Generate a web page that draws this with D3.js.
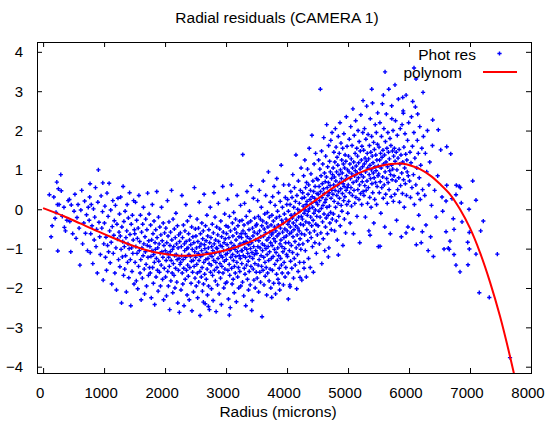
<!DOCTYPE html>
<html>
<head>
<meta charset="utf-8">
<script src="https://cdn.jsdelivr.net/npm/d3@7"></script>
<style>
  body { margin: 0; background: #fff; }
  text { font-family: "Liberation Sans", Arial, sans-serif; fill: #000; }
</style>
</head>
<body>
<svg id="chart" width="545" height="425"></svg>
<script>
// radius (microns) vs residual
var photRes = [
[103,0.37],[131,-0.7],[148,-0.42],[176,0.31],[197,-0.23],[212,-0.08],[225,0.69],[236,0.12],[241,-1.06],[251,0.52],[262,0.12],[290,0.88],[298,0.47],[315,-0.18],[342,0.05],[349,-0.46],[367,-0.55],[390,-0.28],[412,0.22],[431,0.25],[438,-0.31],[454,-1.08],[462,0.11],[485,-0.62],
[508,-0.05],[522,0.38],[541,-0.74],[556,-0.21],[573,0.12],[590,-0.48],[604,-1.42],[619,-0.02],[633,0.48],[648,-0.88],[667,-0.35],[681,0.21],[695,-0.61],[712,-0.14],[728,-1.05],[741,0.05],
[756,-0.28],[764,0.31],[770,0.65],[773,-1.1],[781,-0.62],[790,0.12],[802,-0.42],[815,-1.38],[826,0.01],[838,-0.78],[847,-0.2],[859,0.55],[868,-0.95],[877,-0.51],[889,-1.62],[898,0.18],[906,1.0],[916,-0.33],[928,-0.7],[939,-1.15],[951,0.34],[963,-0.48],[974,-0.06],[979,0.67],[985,-1.8],[995,-0.88],
[1006,-0.35],[1014,0.08],[1023,-1.22],[1031,-0.71],[1040,-1.55],[1048,0.41],[1057,-0.92],[1066,-0.18],[1074,-1.08],[1083,0.66],[1091,-0.55],[1100,-1.36],[1109,-0.02],[1117,-0.84],[1126,-1.9],[1134,-0.44],[1143,0.22],[1151,-1.12],[1160,-0.66],[1168,-0.29],[1177,-1.62],[1186,0.1],[1194,-0.98],[1203,-2.05],[1211,-0.38],[1220,-0.76],[1228,0.28],[1237,-1.28],[1245,-0.58],
[1253,-0.12],[1259,-1.46],[1266,-0.68],[1272,0.31],[1279,-1.02],[1286,-2.38],[1292,-0.45],[1299,-1.21],[1305,-0.82],[1312,0.58],[1319,-1.68],[1325,-0.31],[1332,-0.95],[1339,-1.52],[1345,-0.05],[1352,-1.18],[1358,-0.72],[1365,-2.1],[1372,-0.55],[1378,0.12],[1385,-1.35],[1392,-0.88],[1398,-0.22],[1405,-1.74],[1411,-1.0],[1418,0.42],[1425,-0.64],[1431,-1.28],[1438,-2.45],[1445,-0.38],[1451,-0.98],[1458,-1.58],[1464,-0.15],[1471,-1.12],[1478,-0.78],[1484,0.22],[1491,-1.9],[1497,-0.52],
[1503,-0.62],[1509,-1.35],[1515,0.18],[1521,-0.95],[1528,-1.82],[1534,-0.28],[1540,-1.12],[1546,-0.74],[1552,-2.02],[1559,-0.48],[1565,-1.45],[1571,0.35],[1577,-1.05],[1584,-0.82],[1590,-1.62],[1596,-0.15],[1602,-1.28],[1608,-2.3],[1615,-0.58],[1621,-0.98],[1627,-1.75],[1633,-0.38],[1640,-1.18],[1646,0.05],[1652,-0.88],[1658,-1.52],[1664,-2.15],[1671,-0.7],[1677,-1.08],[1683,-0.25],[1689,-1.4],[1696,-1.95],[1702,-0.52],[1708,-0.92],[1714,0.41],[1720,-1.22],[1727,-1.68],[1733,-0.8],[1739,-0.12],[1745,-1.48],
[1752,-0.95],[1757,-1.62],[1763,-0.4],[1768,-1.2],[1774,-2.25],[1780,-0.78],[1785,-1.05],[1791,0.12],[1796,-1.48],[1802,-0.62],[1808,-1.88],[1813,-1.15],[1819,-0.3],[1824,-1.35],[1830,-2.42],[1836,-0.85],[1841,-1.02],[1847,-0.52],[1852,-1.72],[1858,-1.25],[1864,0.45],[1869,-0.72],[1875,-1.55],[1880,-0.98],[1886,-2.08],[1892,-0.2],[1897,-1.32],[1903,-0.88],[1908,-1.6],[1914,-0.45],[1920,-1.12],[1925,-1.95],[1931,-0.65],[1936,-1.42],[1942,0.05],[1948,-1.08],[1953,-0.8],[1959,-1.78],[1964,-1.22],[1970,-0.35],[1976,-2.3],[1981,-0.92],[1987,-1.5],[1992,-0.6],
[2003,-1.05],[2008,-1.72],[2013,-0.48],[2018,-1.3],[2023,-2.2],[2028,-0.85],[2034,-1.12],[2039,0.22],[2044,-1.58],[2049,-0.68],[2054,-1.95],[2059,-1.22],[2064,-0.32],[2070,-1.45],[2075,-2.55],[2080,-0.92],[2085,-1.08],[2090,-0.58],[2095,-1.82],[2100,-1.3],[2106,0.48],[2111,-0.78],[2116,-1.62],[2121,-1.02],[2126,-2.12],[2131,-0.25],[2136,-1.38],[2142,-0.95],[2147,-1.68],[2152,-0.5],[2157,-1.18],[2162,-2.0],[2167,-0.72],[2172,-1.5],[2178,-0.1],[2183,-1.15],[2188,-0.88],[2193,-1.85],[2198,-1.28],[2203,-0.42],[2208,-2.38],[2214,-0.98],[2219,-1.55],[2224,-0.65],[2229,-1.25],[2234,-2.62],[2239,-0.82],[2245,-1.4],
[2251,-0.6],[2256,-1.35],[2261,-2.05],[2266,-0.95],[2271,-1.18],[2276,0.35],[2281,-1.62],[2286,-0.72],[2291,-1.9],[2296,-1.28],[2301,-0.4],[2306,-1.5],[2311,-2.45],[2316,-0.88],[2321,-1.05],[2326,-0.55],[2331,-1.78],[2336,-1.22],[2341,0.12],[2346,-0.82],[2351,-1.55],[2356,-1.0],[2361,-2.18],[2366,-0.3],[2371,-1.42],[2376,-0.98],[2381,-1.7],[2386,-0.62],[2391,-1.15],[2396,-2.3],[2401,-0.78],[2406,-1.48],[2411,-0.18],[2416,-1.2],[2421,-0.9],[2426,-1.88],[2431,-1.32],[2436,-0.45],[2441,-2.58],[2446,-1.02],[2451,-1.6],[2456,-0.7],[2461,-1.3],[2466,-2.1],[2471,-0.85],[2476,-1.45],[2481,0.55],[2486,-1.08],[2491,-1.75],[2496,-0.5],
[2502,-1.22],[2506,-0.68],[2511,-1.95],[2515,-0.98],[2520,-1.4],[2525,-0.25],[2529,-1.62],[2534,-2.25],[2538,-0.82],[2543,-1.12],[2548,-0.48],[2552,-1.85],[2557,-1.3],[2561,0.18],[2566,-0.95],[2571,-1.58],[2575,-2.7],[2580,-0.62],[2584,-1.2],[2589,-0.88],[2594,-1.72],[2598,-1.05],[2603,-0.35],[2607,-1.48],[2612,-2.08],[2617,-0.75],[2621,-1.15],[2626,-0.55],[2628,-2.36],[2630,-1.9],[2635,-1.35],[2640,0.38],[2644,-0.9],[2649,-1.65],[2653,-1.0],[2658,-2.4],[2663,-0.42],[2667,-1.28],[2672,-0.8],[2676,-1.78],[2681,-1.1],[2686,-0.15],[2690,-1.52],[2695,-2.18],[2699,-0.68],[2704,-1.25],[2709,-0.98],[2710,-2.47],[2713,-1.95],[2718,-0.52],[2722,-1.38],[2727,-2.55],[2732,-0.85],[2736,-1.15],[2741,0.05],[2745,-1.6],
[2752,-0.72],[2756,-1.42],[2761,-2.02],[2765,-0.95],[2770,-1.2],[2774,-0.38],[2779,-1.68],[2783,-1.05],[2788,-2.32],[2792,-0.6],[2797,-1.3],[2801,0.42],[2806,-0.88],[2810,-1.55],[2815,-1.12],[2819,-0.2],[2824,-1.82],[2828,-0.78],[2833,-1.35],[2837,-2.6],[2842,-0.98],[2846,-0.45],[2851,-1.48],[2855,-1.0],[2860,-1.92],[2864,-0.65],[2869,-1.25],[2873,0.15],[2878,-0.82],[2882,-1.6],[2887,-2.15],[2891,-1.1],[2896,-0.5],[2900,-1.38],[2905,-0.92],[2909,-1.75],[2914,-0.3],[2918,-1.18],[2923,-2.42],[2927,-0.7],[2932,-1.45],[2936,-0.95],[2941,-1.22],[2945,0.58],[2950,-1.62],[2954,-0.58],[2959,-1.05],[2963,-2.0],[2968,-0.85],[2972,-1.32],[2977,-0.12],[2981,-1.52],[2986,-0.75],[2990,-1.88],[2995,-1.15],[2999,-0.42],
[3004,-1.28],[3008,-0.62],[3013,-1.85],[3017,-0.9],[3021,-1.12],[3026,0.25],[3030,-1.55],[3034,-0.45],[3039,-2.28],[3043,-1.0],[3047,-0.72],[3052,-1.4],[3054,-2.69],[3056,-0.18],[3060,-1.68],[3065,-1.05],[3069,-2.5],[3073,-0.55],[3078,-1.22],[3082,-0.85],[3086,0.62],[3091,-1.5],[3095,-0.98],[3099,-1.9],[3104,-0.35],[3108,-1.15],[3112,-0.68],[3117,-1.78],[3121,-1.3],[3125,-0.08],[3130,-0.92],[3134,-2.12],[3138,-1.45],[3143,-0.5],[3147,-1.02],[3151,-1.62],[3156,-0.25],[3160,-1.2],[3164,-0.78],[3169,-2.35],[3173,-0.6],[3177,-1.35],[3182,0.35],[3186,-1.08],[3190,-1.72],[3195,-0.42],[3199,-0.95],[3203,-1.48],[3208,-2.0],[3212,-0.7],[3216,-1.18],[3221,-0.3],[3225,-1.58],[3229,-0.88],[3234,-1.25],[3238,0.1],[3242,-1.95],[3247,-0.62],[3250,-1.05],
[3254,-0.72],[3258,-1.38],[3262,-0.28],[3266,-1.05],[3270,-1.85],[3274,1.39],[3278,-0.55],[3282,-1.18],[3286,-0.85],[3290,-2.2],[3295,-0.4],[3299,-1.5],[3303,0.15],[3307,-0.98],[3311,-1.65],[3315,-0.62],[3319,-1.22],[3323,-2.45],[3327,-0.82],[3331,-0.18],[3335,-1.42],[3339,-1.02],[3343,0.45],[3347,-0.7],[3351,-1.78],[3356,-1.12],[3360,-0.35],[3364,-1.32],[3368,-2.05],[3372,-0.9],[3376,-0.52],[3380,-1.58],[3384,-0.05],[3388,-1.2],[3392,-0.75],[3396,-1.92],[3400,-1.0],[3404,-0.3],[3408,-1.45],[3412,0.6],[3417,-0.85],[3421,-2.57],[3425,-1.1],[3429,-2.32],[3433,-0.48],[3437,-1.25],[3441,-0.68],[3445,-1.52],[3449,0.28],[3453,-0.95],[3457,-1.8],[3461,-0.58],[3465,-1.15],[3469,-0.22],[3473,-1.38],[3478,-2.0],[3482,-0.78],[3486,-1.05],[3490,-0.42],[3494,-1.6],
[3502,-0.38],[3506,-1.12],[3510,-1.75],[3514,-0.62],[3518,0.22],[3522,-0.95],[3526,-1.42],[3530,-0.18],[3534,-2.1],[3538,-0.8],[3542,-1.28],[3546,0.48],[3550,-0.55],[3554,-1.6],[3558,-0.98],[3562,-0.25],[3566,-1.85],[3570,-0.7],[3574,-1.18],[3578,0.05],[3582,-1.45],[3586,-0.42],[3590,-2.73],[3594,-0.88],[3598,-1.05],[3602,-0.3],[3606,-1.55],[3610,0.72],[3614,-0.68],[3618,-1.22],[3622,-1.92],[3626,-0.5],[3630,-0.92],[3634,-0.12],[3638,-1.35],[3642,-1.7],[3646,-0.6],[3650,0.35],[3654,-1.0],[3658,-1.48],[3662,-0.35],[3666,-2.18],[3670,-0.78],[3674,-1.15],[3678,-0.08],[3682,-1.62],[3686,-0.45],[3690,-0.95],[3694,0.95],[3698,-1.3],[3702,-0.72],[3706,-1.82],[3710,-0.2],[3714,-1.08],[3718,-0.58],[3722,-1.52],[3726,0.18],[3730,-0.85],[3734,-2.0],[3738,-0.4],[3742,-1.25],[3746,-0.65],[3749,-2.24],
[3752,-0.15],[3756,-0.92],[3760,-1.55],[3764,0.32],[3768,-0.6],[3772,-1.2],[3776,-0.3],[3780,-1.88],[3784,-0.75],[3788,0.58],[3792,-1.02],[3796,-0.45],[3800,-1.4],[3804,0.1],[3808,-0.82],[3812,-2.15],[3816,-0.55],[3820,-1.1],[3824,-0.22],[3828,-1.65],[3832,0.78],[3836,-0.68],[3840,-1.3],[3844,-0.05],[3848,-0.98],[3852,-1.78],[3856,-0.4],[3860,0.42],[3864,-1.18],[3868,-0.62],[3869,-1.88],[3872,-1.5],[3876,-0.18],[3880,-2.05],[3884,-0.88],[3888,0.2],[3892,-0.48],[3896,-1.25],[3900,-0.78],[3904,1.12],[3908,-1.42],[3912,-0.28],[3916,-0.95],[3920,-1.62],[3924,0.05],[3928,-0.58],[3932,-1.08],[3936,-0.35],[3940,-1.92],[3944,0.62],[3948,-0.72],[3952,-1.35],[3956,-0.12],[3960,-1.0],[3964,-0.5],[3968,-1.72],[3972,0.3],[3976,-0.85],[3980,-1.48],[3984,-0.25],[3988,-0.68],[3992,-1.15],[3996,0.12],
[4002,-0.55],[4006,-1.2],[4010,0.25],[4014,-0.38],[4018,-1.62],[4021,-2.28],[4022,-0.05],[4026,-0.85],[4030,0.62],[4034,-0.3],[4038,-1.05],[4042,-0.62],[4046,-1.92],[4049,-1.97],[4050,0.12],[4054,-0.45],[4058,-1.32],[4062,0.45],[4066,-0.15],[4070,-0.92],[4074,-0.58],[4078,-1.5],[4082,0.3],[4086,-0.22],[4090,-1.1],[4094,0.88],[4098,-0.7],[4102,-0.35],[4106,-1.75],[4110,0.05],[4114,-0.52],[4118,-1.25],[4122,0.55],[4126,-0.12],[4130,-0.82],[4134,-1.42],[4138,0.2],[4142,-0.42],[4146,1.38],[4150,-0.98],[4154,-0.28],[4158,-2.02],[4162,0.35],[4166,-0.65],[4170,-1.15],[4174,0.0],[4178,-0.48],[4182,-1.58],[4186,0.72],[4190,-0.2],[4194,-0.9],[4198,-0.55],[4202,0.15],[4206,-1.35],[4210,-0.05],[4213,-1.73],[4214,-0.75],[4218,0.48],[4222,-0.38],[4226,-1.02],[4230,1.05],[4234,-0.18],[4238,-0.62],[4242,-1.8],[4246,0.28],
[4252,-0.25],[4256,0.42],[4260,-0.88],[4264,0.08],[4268,-0.4],[4272,0.85],[4276,-1.35],[4279,-1.5],[4280,-0.1],[4284,0.3],[4288,-0.65],[4292,1.25],[4296,-0.02],[4300,-1.05],[4304,0.55],[4308,-0.32],[4312,0.12],[4316,-1.72],[4320,0.68],[4324,-0.52],[4328,0.2],[4332,-0.15],[4336,1.02],[4340,-0.8],[4344,0.38],[4348,-0.05],[4352,-1.25],[4356,0.62],[4360,-0.35],[4364,1.55],[4368,0.02],[4372,-0.6],[4376,0.25],[4380,-1.48],[4384,0.48],[4388,-0.2],[4392,0.9],[4396,-0.72],[4400,0.15],[4404,-0.42],[4408,1.88],[4412,0.32],[4416,-0.95],[4420,0.05],[4424,0.72],[4428,-0.28],[4432,-1.6],[4436,0.45],[4440,-0.1],[4444,1.15],[4448,-0.55],[4452,0.28],[4456,-0.85],[4460,0.58],[4464,-0.02],[4468,1.42],[4472,-0.38],[4476,0.18],[4480,-1.12],[4484,0.78],[4488,-0.18],[4492,0.4],[4496,-0.65],
[4502,0.12],[4506,0.75],[4510,-0.42],[4514,0.38],[4518,1.25],[4522,-0.05],[4526,0.58],[4530,-0.88],[4534,0.22],[4538,1.02],[4542,-0.2],[4546,3.05],[4550,0.45],[4554,-0.6],[4558,0.85],[4562,0.02],[4566,1.48],[4570,-1.38],[4574,0.3],[4578,0.65],[4582,-0.32],[4586,1.15],[4590,0.1],[4594,-0.75],[4598,0.52],[4602,1.82],[4606,-0.12],[4610,0.4],[4614,0.92],[4618,-1.05],[4622,0.18],[4626,0.7],[4630,-0.45],[4634,1.35],[4638,0.25],[4642,-0.22],[4646,0.82],[4650,2.15],[4654,0.05],[4658,0.55],[4662,-0.62],[4666,1.08],[4670,0.35],[4674,-0.15],[4677,-1.21],[4678,0.68],[4682,1.62],[4686,-0.98],[4690,0.42],[4694,0.08],[4698,1.22],[4702,-0.35],[4706,0.6],[4710,0.95],[4714,-0.08],[4718,1.75],[4722,0.28],[4726,-0.52],[4730,0.78],[4734,0.48],[4738,1.95],[4742,-0.25],[4746,0.88],
[4752,0.38],[4756,1.05],[4760,-0.12],[4764,0.62],[4768,1.45],[4772,0.2],[4776,0.82],[4780,-0.55],[4784,1.2],[4788,0.48],[4792,2.05],[4796,0.05],[4800,0.72],[4804,1.58],[4808,-0.3],[4812,0.95],[4816,0.35],[4820,1.32],[4824,-0.78],[4828,0.6],[4832,1.12],[4836,0.15],[4840,1.85],[4841,-1.16],[4844,0.45],[4848,-0.18],[4852,0.88],[4856,1.42],[4860,0.28],[4864,0.68],[4868,2.2],[4872,-0.42],[4876,1.0],[4880,0.52],[4884,1.68],[4888,0.1],[4892,0.78],[4896,1.25],[4900,-0.05],[4904,0.92],[4908,0.4],[4912,1.55],[4916,-0.92],[4920,0.65],[4924,1.15],[4928,0.22],[4932,1.92],[4936,0.58],[4940,-0.25],[4944,1.05],[4948,0.32],[4952,1.38],[4956,0.75],[4960,-0.6],[4964,1.22],[4968,0.48],[4972,2.35],[4976,0.85],[4980,0.12],[4984,1.6],[4988,0.55],[4992,1.0],[4996,-0.1],
[5003,0.62],[5008,1.35],[5012,0.2],[5017,0.95],[5021,1.78],[5026,0.42],[5030,1.15],[5035,-0.35],[5039,0.78],[5044,2.1],[5048,0.55],[5053,1.28],[5057,0.08],[5062,0.9],[5066,1.62],[5071,0.35],[5075,1.05],[5080,2.55],[5084,0.68],[5089,-0.62],[5093,1.2],[5098,0.48],[5102,1.88],[5107,0.85],[5111,0.15],[5116,1.42],[5120,0.98],[5125,2.25],[5129,0.3],[5134,1.1],[5138,0.72],[5143,1.55],[5147,-0.18],[5152,0.92],[5156,1.35],[5161,0.5],[5165,2.0],[5170,0.8],[5174,1.18],[5179,0.25],[5183,1.72],[5188,0.62],[5192,-0.85],[5197,1.02],[5201,1.48],[5206,0.4],[5210,2.4],[5215,0.88],[5219,1.25],[5224,0.12],[5228,1.6],[5233,0.7],[5237,1.08],[5242,1.95],[5246,2.76],[5248,0.45],
[5252,0.82],[5257,1.5],[5261,0.35],[5266,1.15],[5270,2.05],[5275,0.6],[5279,1.3],[5284,-0.2],[5288,0.95],[5293,1.78],[5297,0.48],[5302,1.22],[5306,2.62],[5311,0.72],[5315,1.42],[5320,0.15],[5324,1.05],[5329,1.9],[5333,0.55],[5338,1.28],[5342,-0.55],[5347,0.88],[5351,1.62],[5356,0.3],[5360,1.12],[5361,-0.66],[5365,2.3],[5369,0.78],[5374,1.45],[5378,0.05],[5383,1.0],[5387,1.85],[5389,3.05],[5392,0.65],[5396,1.35],[5401,2.7],[5405,0.42],[5410,1.18],[5414,0.92],[5419,1.7],[5423,-0.35],[5428,0.8],[5432,1.52],[5437,0.25],[5441,1.08],[5446,2.15],[5450,0.68],[5455,1.38],[5459,0.98],[5464,1.95],[5468,0.12],[5473,1.25],[5477,0.58],[5482,1.65],[5486,2.45],[5491,0.85],[5495,1.1],[5497,-0.95],
[5503,0.9],[5508,1.58],[5513,0.42],[5518,1.25],[5523,2.2],[5525,-0.94],[5528,0.7],[5533,1.42],[5538,-0.1],[5543,1.05],[5548,1.85],[5553,0.55],[5558,1.32],[5563,2.68],[5568,0.82],[5573,1.5],[5578,0.28],[5579,2.9],[5583,1.15],[5588,2.05],[5593,0.62],[5598,1.38],[5603,-0.45],[5607,3.49],[5608,0.95],[5613,1.72],[5618,0.38],[5623,1.2],[5628,2.42],[5633,0.78],[5638,1.55],[5643,0.15],[5648,1.08],[5653,1.95],[5658,0.68],[5663,1.45],[5668,3.05],[5673,0.5],[5678,1.28],[5683,0.98],[5688,1.8],[5693,-0.62],[5698,0.88],[5703,1.62],[5708,0.32],[5713,1.12],[5716,2.63],[5718,2.3],[5723,0.75],[5728,1.48],[5733,1.02],[5738,2.0],[5743,0.2],[5748,1.35],
[5754,0.85],[5760,1.55],[5766,0.38],[5770,3.16],[5772,1.22],[5778,2.25],[5784,0.72],[5790,1.45],[5796,-0.28],[5802,1.0],[5808,1.88],[5814,0.5],[5820,1.3],[5826,2.8],[5832,0.8],[5838,1.52],[5844,0.18],[5850,1.15],[5856,2.05],[5862,0.6],[5868,1.38],[5874,-0.7],[5880,0.92],[5886,2.15],[5892,0.4],[5897,2.84],[5898,1.2],[5904,2.5],[5907,2.44],[5910,0.75],[5916,1.58],[5922,0.05],[5928,1.05],[5934,1.92],[5940,0.65],[5946,1.4],[5951,-0.6],[5952,2.9],[5958,0.35],[5964,1.25],[5970,0.95],[5976,1.75],[5982,-0.45],[5988,0.85],[5994,2.2],
[6008,0.72],[6016,1.45],[6024,0.3],[6032,1.18],[6040,2.35],[6048,0.55],[6056,1.6],[6060,2.74],[6064,-0.5],[6072,0.88],[6080,1.95],[6082,3.59],[6088,0.12],[6096,1.3],[6104,2.6],[6112,0.62],[6115,3.31],[6120,-0.9],[6128,1.05],[6136,1.75],[6142,2.42],[6144,0.4],[6152,1.42],[6160,-0.15],[6168,0.8],[6176,2.1],[6184,0.25],[6192,1.12],[6200,-0.85],[6210,1.55],[6218,-0.57],[6222,0.5],[6230,2.97],[6236,1.85],
[6258,0.35],[6268,1.42],[6278,-0.4],[6290,0.95],[6302,2.0],[6314,-1.05],[6326,0.62],[6340,1.2],[6354,-0.7],[6368,0.1],[6384,1.62],[6388,2.27],[6400,-1.2],[6420,0.48],[6445,-0.2],[6470,0.85],[6480,2.02],[6520,1.51],
[6541,0.31],[6552,-0.05],[6574,-1.01],[6607,0.21],[6607,-0.57],[6618,0.61],[6618,1.59],[6644,-0.99],[6660,-1.02],[6672,-0.81],[6684,1.41],[6705,0.27],[6726,-0.24],[6738,-0.51],[6738,-1.15],[6770,-1.42],[6770,0.37],[6776,0.61],[6825,0.58],[6836,-1.59],[6841,0.55],[6857,0.16],[6869,-0.32],[6962,-0.84],[6967,-1.41],[6984,0.0],[6989,-1.01],[6989,-0.59],[7044,0.72],[7098,0.23],[7098,-1.14],[7152,-2.12],[7175,-0.55],[7218,-0.3],[7316,-2.24],[7448,-1.14],[7656,-3.77]
];

// fitted polynomial, sampled along the red curve
var polyRadius = [0, 333, 607, 880, 1153, 1426, 1700, 1972, 2246, 2520, 2792, 3066, 3393, 3667, 3940, 4213, 4487, 4760, 5033, 5306, 5525, 5700, 5880, 6050, 6180, 6344, 6508, 6672, 6836, 7000, 7164, 7328, 7492, 7656, 7760];
var polyValue  = [0.03, -0.17, -0.36, -0.55, -0.73, -0.9, -1.04, -1.13, -1.18, -1.17, -1.11, -1.01, -0.83, -0.62, -0.36, -0.06, 0.25, 0.55, 0.81, 1.0, 1.1, 1.15, 1.16, 1.1, 1.02, 0.86, 0.64, 0.38, 0.0, -0.48, -1.1, -1.85, -2.72, -3.74, -4.45];

var xTicks = [0, 1000, 2000, 3000, 4000, 5000, 6000, 7000, 8000];
var yTicks = [-4, -3, -2, -1, 0, 1, 2, 3, 4];

var plotLeft = 37, plotRight = 531, plotTop = 42, plotBottom = 373;

var svg = d3.select("#chart");

var x = d3.scaleLinear().domain([-100, 8000]).range([plotLeft, plotRight]);
var y = d3.scaleLinear().domain([-4.16, 4.25]).range([plotBottom, plotTop]);

svg.append("clipPath").attr("id", "plotArea")
    .append("rect")
    .attr("x", plotLeft).attr("y", plotTop)
    .attr("width", plotRight - plotLeft).attr("height", plotBottom - plotTop);

// axes (ticks point inward, mirrored on top/right)
var gx = svg.append("g").attr("transform", "translate(0," + plotBottom + ")")
    .call(d3.axisBottom(x).tickValues(xTicks).tickFormat(d3.format("d")).tickSizeInner(-5).tickSizeOuter(0).tickPadding(14));
var gxTop = svg.append("g").attr("transform", "translate(0," + plotTop + ")")
    .call(d3.axisTop(x).tickValues(xTicks).tickSizeInner(-5).tickSizeOuter(0).tickFormat(""));
var gy = svg.append("g").attr("transform", "translate(" + plotLeft + ",0)")
    .call(d3.axisLeft(y).tickValues(yTicks).tickFormat(d3.format("d")).tickSizeInner(-5).tickSizeOuter(0).tickPadding(14));
var gyRight = svg.append("g").attr("transform", "translate(" + plotRight + ",0)")
    .call(d3.axisRight(y).tickValues(yTicks).tickSizeInner(-5).tickSizeOuter(0).tickFormat(""));

[gx, gxTop, gy, gyRight].forEach(function (g) {
    g.select(".domain").remove();
    g.selectAll(".tick line").attr("stroke", "#000");
    g.selectAll(".tick text").attr("font-size", 15).attr("font-family", null);
});
gx.selectAll(".tick text").attr("x", -3.5);

svg.append("rect")
    .attr("x", plotLeft + 0.5).attr("y", plotTop + 0.5)
    .attr("width", plotRight - plotLeft).attr("height", plotBottom - plotTop)
    .attr("fill", "none").attr("stroke", "#000").attr("stroke-width", 1);

// scatter points: small blue crosses
var cross = d3.symbol().type(d3.symbolCross).size(10);
svg.append("g").attr("clip-path", "url(#plotArea)")
    .selectAll("path")
    .data(photRes)
    .enter()
    .append("path")
    .attr("d", cross)
    .attr("transform", function (d) {
        return "translate(" + x(d[0]) + "," + y(d[1]) + ")";
    })
    .attr("fill", "#0000ff");

// polynomial curve
var line = d3.line()
    .x(function (d, i) { return x(polyRadius[i]); })
    .y(function (d) { return y(d); })
    .curve(d3.curveCatmullRom);

svg.append("path")
    .attr("clip-path", "url(#plotArea)")
    .attr("d", line(polyValue))
    .attr("fill", "none")
    .attr("stroke", "#ff0000")
    .attr("stroke-width", 2);

// title and axis label
svg.append("text").attr("x", 277).attr("y", 23).attr("text-anchor", "middle")
    .attr("font-size", 15.5).text("Radial residuals (CAMERA 1)");
svg.append("text").attr("x", 278).attr("y", 417).attr("text-anchor", "middle")
    .attr("font-size", 15.5).text("Radius (microns)");

// legend
svg.append("text").attr("x", 476).attr("y", 60).attr("text-anchor", "end")
    .attr("font-size", 15.5).text("Phot res");
svg.append("path").attr("d", cross).attr("transform", "translate(499.5,53.5)").attr("fill", "#0000ff");
svg.append("text").attr("x", 462).attr("y", 78).attr("text-anchor", "end")
    .attr("font-size", 15.5).text("polynom");
svg.append("line").attr("x1", 483).attr("x2", 517).attr("y1", 72).attr("y2", 72)
    .attr("stroke", "#ff0000").attr("stroke-width", 2);
</script>
</body>
</html>
